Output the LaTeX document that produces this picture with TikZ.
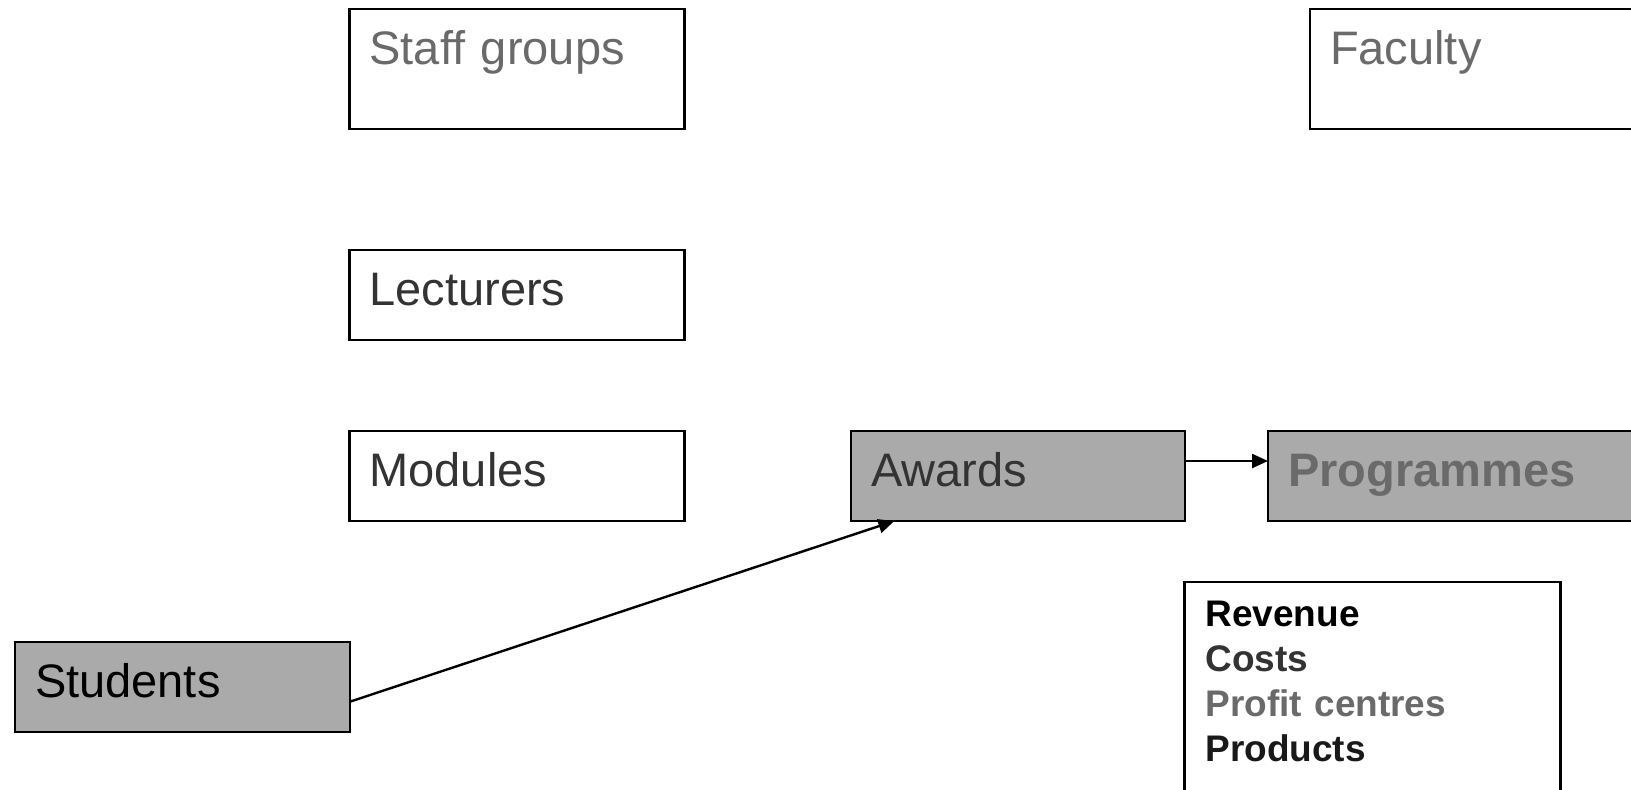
\documentclass[tikz,border=0pt]{standalone}
\usepackage{fontspec}
\setmainfont{Liberation Sans}
\usetikzlibrary{arrows.meta}

\definecolor{boxgray}{HTML}{AAAAAA}
\definecolor{txtgray}{HTML}{6A6A6A}
\definecolor{txtdark}{HTML}{333333}

\begin{document}
\begin{tikzpicture}[
  x=0.5pt, y=-0.5pt,
  entity/.style={draw, line width=1.2pt, anchor=north west, inner xsep=10pt,
                 inner ysep=0pt, outer sep=0pt, text width=#1, align=left,
                 text height=27.8pt, text depth=17.2pt,
                 font=\fontsize{23.5}{28}\selectfont},
  entity/.default=147.5pt,
  tall/.style={text depth=32.2pt},
  shaded/.style={fill=boxgray},
  arr/.style={-{Triangle[length=8pt,width=7pt]}, line width=1.2pt},
]
  \useasboundingbox (0,0) rectangle (1631,789);
  \clip (0,0) rectangle (1631,789);

  \node[entity, tall, text=txtgray] (staff) at (349.5,9) {Staff groups};
  \node[entity=180pt, tall, text=txtgray] (faculty) at (1310,9) {Faculty};
  \node[entity, text=txtdark] (lect) at (349.5,250) {Lecturers};
  \node[entity, text=txtdark] (mods) at (349.5,431) {Modules};
  \node[entity=147pt, shaded, text=txtdark] (awards) at (851,431) {Awards};
  \node[entity=200pt, shaded, text=txtgray, font=\fontsize{23.5}{28}\selectfont\bfseries]
    (progs) at (1268,431) {Programmes};
  \node[entity, shaded, text=black] (students) at (15,642) {Students};

  \node[draw, line width=1.2pt, anchor=north west, inner xsep=10.5pt, inner ysep=9.5pt,
        outer sep=0pt, text width=167pt, align=left, text depth=120pt,
        font=\fontsize{18.5}{22.5}\selectfont\bfseries] (info) at (1184.5,582)
    {\textcolor{black}{Revenue}\\\textcolor{txtdark}{Costs}\\
     \textcolor{txtgray}{Profit centres}\\\textcolor{black!90}{Products}};

  \draw[arr] ([yshift=7.5pt]awards.east) -- ([yshift=7.5pt]progs.west);
  \draw[arr] (students.-5) -- (awards.200);
\end{tikzpicture}
\end{document}
